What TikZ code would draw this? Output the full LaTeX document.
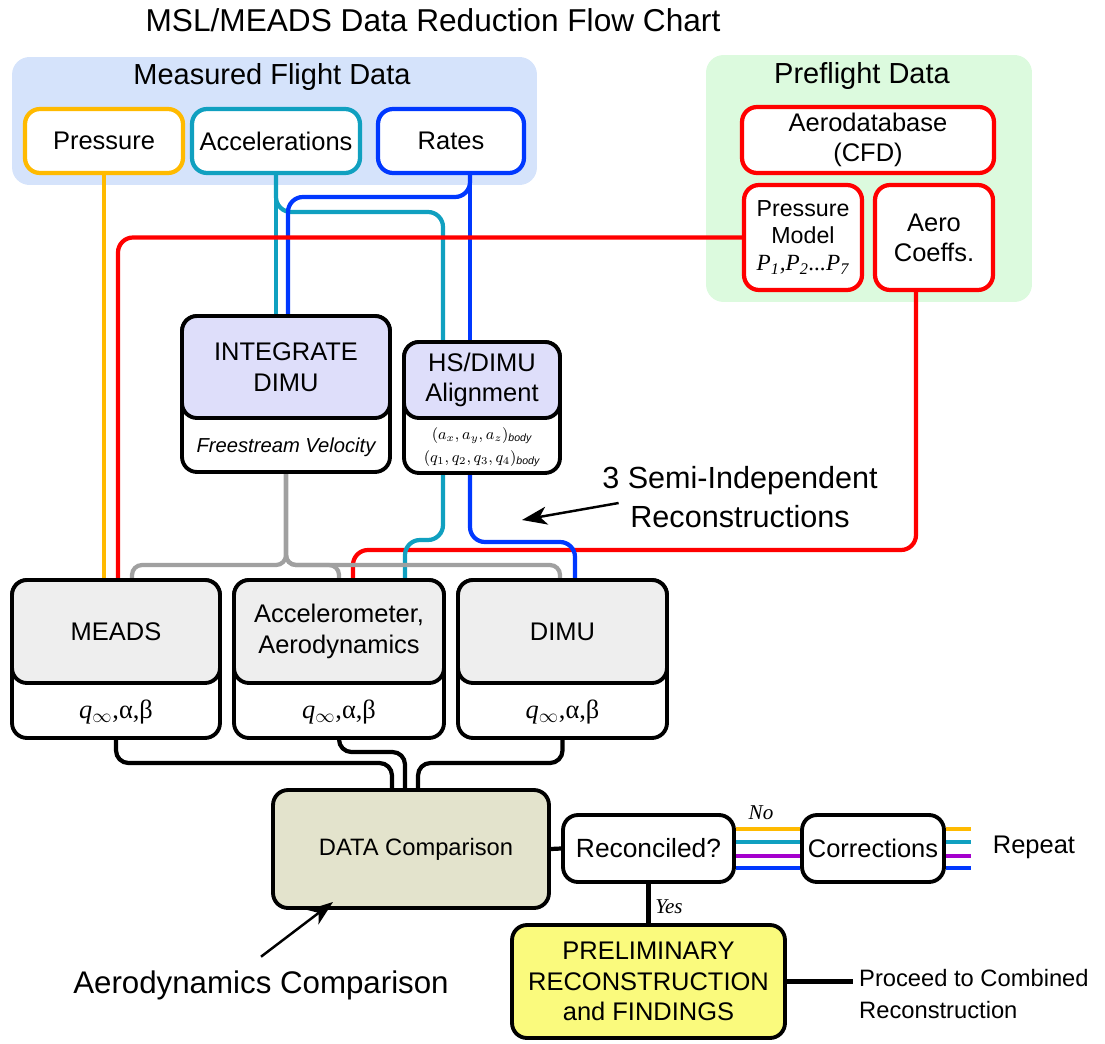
\documentclass[tikz,border=0pt]{standalone}
\usepackage{fontspec}
\setmainfont{Liberation Sans}
\newfontfamily\lserif{Liberation Serif}
\usepackage{tikz}
\usetikzlibrary{arrows.meta,calc}

\definecolor{presscol}{RGB}{255,186,0}
\definecolor{acccol}{RGB}{16,160,192}
\definecolor{ratecol}{RGB}{0,56,255}
\definecolor{aerocol}{RGB}{255,0,0}
\definecolor{velcol}{RGB}{160,160,160}
\definecolor{flagcol}{RGB}{165,0,205}
\definecolor{measfill}{RGB}{213,227,251}
\definecolor{prefill}{RGB}{220,250,222}
\definecolor{lavfill}{RGB}{222,222,250}
\definecolor{recfill}{RGB}{238,238,238}
\definecolor{cmpfill}{RGB}{227,227,204}
\definecolor{prelimfill}{RGB}{250,250,125}

\pgfdeclarelayer{bg}
\pgfdeclarelayer{wires}
\pgfsetlayers{bg,wires,main}

\newcommand{\qab}{\textit{q}$_\infty$,α,β}

\begin{document}
\begin{tikzpicture}[
        x=0.02cm, y=-0.02cm,
        panel/.style={rounded corners=0.35cm, inner sep=0pt},
        panel_title/.style={font=\fontsize{16.5}{19}\selectfont},
        src_block/.style={draw, line width=2.4pt, rounded corners=0.3cm, fill=white, align=center, inner sep=0pt, font=\fontsize{14.5}{17}\selectfont},
        proc_block/.style={draw=black, line width=2.2pt, rounded corners=0.3cm, fill=white, align=center, inner sep=0pt, font=\fontsize{14.5}{17.5}\selectfont},
        sub_text/.style={font=\lserif\fontsize{15}{17}\selectfont},
        wire/.style={line width=2.4pt, rounded corners=0.3cm},
        black_wire/.style={wire, draw=black, rounded corners=0.25cm},
        note_text/.style={align=center, font=\fontsize{17.4}{22}\selectfont},
        note_arrow/.style={arrows={-Stealth[length=0.5cm,width=0.36cm,inset=0.14cm]}, line width=1.4pt},
        flag_text/.style={font=\lserif\itshape\fontsize{12}{14}\selectfont}
    ]
        \useasboundingbox (0,0) rectangle (1105,1044);

        \node (title) at (433,20) [font=\fontsize{18}{21}\selectfont] {MSL/MEADS Data Reduction Flow Chart};

        % data containers
        \begin{pgfonlayer}{bg}
        \node (meas) at (274.5,121) [panel, fill=measfill, minimum width=10.5cm, minimum height=2.56cm] {};
        \node (pre) at (869,178.5) [panel, fill=prefill, minimum width=6.52cm, minimum height=4.94cm] {};
        \end{pgfonlayer}
        \node at (272,77) [panel_title] {Measured Flight Data};
        \node at (862,76) [panel_title] {Preflight Data};

        \node (press) at (104,141) [src_block, draw=presscol, minimum width=3.16cm, minimum height=1.28cm] {Pressure};
        \node (acc) at (276,141) [src_block, draw=acccol, minimum width=3.36cm, minimum height=1.28cm] {Accelerations};
        \node (rates) at (451,141) [src_block, draw=ratecol, minimum width=2.92cm, minimum height=1.28cm] {Rates};

        \node (aerodb) at (868,140) [src_block, draw=aerocol, minimum width=5.04cm, minimum height=1.32cm] {Aerodatabase\\(CFD)};
        \node (pmodel) at (803,237.5) [src_block, draw=aerocol, minimum width=2.36cm, minimum height=2.1cm, font=\fontsize{13.2}{15.5}\selectfont] {Pressure\\Model\\{\lserif\itshape P\textsubscript{1},P\textsubscript{2}...P\textsubscript{7}}};
        \node (coeffs) at (934,237.5) [src_block, draw=aerocol, minimum width=2.36cm, minimum height=2.1cm] {Aero\\Coeffs.};

        % intermediate processing
        \node (integ) at (286,394) [proc_block, minimum width=4.16cm, minimum height=3.12cm] {};
        \node (integtop) at (integ.north) [proc_block, anchor=north, fill=lavfill, minimum width=4.16cm, minimum height=2.04cm] {INTEGRATE\\DIMU};
        \node (integout) at ($(integtop.south)!0.5!(integ.south)$) [font=\itshape\fontsize{11.5}{13}\selectfont] {Freestream Velocity};

        \node (align) at (482,407.5) [proc_block, minimum width=3.12cm, minimum height=2.62cm] {};
        \node (aligntop) at (align.north) [proc_block, anchor=north, fill=lavfill, minimum width=3.12cm, minimum height=1.52cm] {HS/DIMU\\Alignment};
        \node (alignout) at ($(aligntop.south)!0.5!(align.south)$) [align=center, font=\fontsize{9}{13}\selectfont] {$(a_x,a_y,a_z)_{\mathit{body}}$\\$(q_1,q_2,q_3,q_4)_{\mathit{body}}$};

        % reconstructions
        \node (meads) at (116,659) [proc_block, minimum width=4.16cm, minimum height=3.16cm] {};
        \node (meadstop) at (meads.north) [proc_block, anchor=north, fill=recfill, minimum width=4.16cm, minimum height=2.06cm] {MEADS};
        \node (meadsout) at ($(meadstop.south)!0.5!(meads.south)$) [sub_text] {\qab};

        \node (accel) at (339,659) [proc_block, minimum width=4.2cm, minimum height=3.16cm] {};
        \node (acceltop) at (accel.north) [proc_block, anchor=north, fill=recfill, minimum width=4.2cm, minimum height=2.06cm] {Accelerometer,\\Aerodynamics};
        \node (accelout) at ($(acceltop.south)!0.5!(accel.south)$) [sub_text] {\qab};

        \node (dimu) at (562.5,659) [proc_block, minimum width=4.18cm, minimum height=3.16cm] {};
        \node (dimutop) at (dimu.north) [proc_block, anchor=north, fill=recfill, minimum width=4.18cm, minimum height=2.06cm] {DIMU};
        \node (dimuout) at ($(dimutop.south)!0.5!(dimu.south)$) [sub_text] {\qab};

        % comparison
        \node (data) at (411,849) [proc_block, fill=cmpfill, minimum width=5.52cm, minimum height=2.36cm, font=\fontsize{13.5}{16}\selectfont] {\hspace{0.2cm}DATA Comparison};
        \node (recon) at (648.5,848.5) [proc_block, minimum width=3.42cm, minimum height=1.34cm, font=\fontsize{15}{17}\selectfont] {Reconciled?};
        \node (corr) at (873,848.5) [proc_block, minimum width=2.84cm, minimum height=1.34cm] {Corrections};
        \node (prelim) at (648.5,981.5) [proc_block, fill=prelimfill, minimum width=5.46cm, minimum height=2.26cm] {PRELIMINARY\\RECONSTRUCTION\\and FINDINGS};

        \node (repeat) at (1034,847) [font=\fontsize{14.5}{17}\selectfont] {Repeat};
        \node (proceed) at (853,994) [anchor=west, align=left, font=\fontsize{13.5}{18.2}\selectfont] {Proceed to Combined\\Reconstruction};
        \node (no) at (761,813) [flag_text] {No};
        \node (yes) at (669,907) [flag_text] {Yes};

        \node (semi) at (740,497) [note_text] {3 Semi-Independent\\Reconstructions};
        \node (aerocomp) at (261,985) [font=\fontsize{17.8}{20}\selectfont] {Aerodynamics Comparison};

        \coordinate (acc_knee) at (443,212);
        \coordinate (rate_knee) at (288,197);
        \coordinate (coef_knee) at (353,550);
        \coordinate (align_knee_a) at (405,540);
        \coordinate (align_knee_r) at (575,542);
        \coordinate (vel_L) at (132,565);
        \coordinate (vel_M) at (339,565);
        \coordinate (vel_R) at (560,565);
        \coordinate (res_L) at (392,763);
        \coordinate (res_M) at (405,752);
        \coordinate (res_R) at (418,763);
        \coordinate (repeat_end) at (971,848.5);
        \coordinate (semi_tip) at (522,520);
        \coordinate (cmp_tip) at (333,902);

        % Connections
        \begin{pgfonlayer}{wires}
        \draw [wire, draw=presscol] (press.south) -- (press.south |- meads.north);
        \draw [wire, draw=acccol] (acc.south) -- (acc.south |- integ.north);
        \draw [wire, draw=acccol] (acc.south) |- (acc_knee) -- (acc_knee |- align.north);
        \draw [wire, draw=ratecol] ([xshift=0.38cm]rates.south) -- ([xshift=0.38cm]rates.south |- align.north);
        \draw [wire, draw=ratecol] ([xshift=0.38cm]rates.south) |- (rate_knee) -- (rate_knee |- integ.north);

        \draw [wire, draw=aerocol] (pmodel.west) -| ([xshift=0.04cm]meads.north);
        \draw [wire, draw=aerocol] ([xshift=-0.36cm]coeffs.south) |- (coef_knee) -- (coef_knee |- accel.north);

        \draw [wire, draw=acccol] ([xshift=-0.78cm]align.south) |- (align_knee_a) -- (align_knee_a |- accel.north);
        \draw [wire, draw=ratecol] ([xshift=-0.24cm]align.south) |- (align_knee_r) -- (align_knee_r |- dimu.north);
        \foreach \k in {L,M,R}
            \draw [wire, draw=velcol, rounded corners=0.2cm] (integ.south) |- (vel_\k) -- (vel_\k |- meads.north);

        \foreach \k/\blk in {L/meads, M/accel, R/dimu}
            \draw [black_wire] (\blk.south) |- (res_\k) -- (res_\k |- data.north);
        \draw [black_wire] (data.east) -- (recon.west);
        \draw [black_wire] (recon.south) -- (prelim.north);
        \draw [black_wire] (prelim.east) -- (prelim.east -| proceed.west);

        \foreach \c/\s in {presscol/0.39, acccol/0.13, flagcol/-0.15, ratecol/-0.39} {
            \draw [wire, draw=\c] ([yshift=\s cm]recon.east) -- ([yshift=\s cm]corr.west);
            \draw [wire, draw=\c] ([yshift=\s cm]corr.east) -- ([yshift=\s cm]repeat_end);
        }
        \end{pgfonlayer}

        \draw [note_arrow] ([xshift=0.45cm,yshift=-0.12cm]semi.west) -- (semi_tip);
        \draw [note_arrow] ([yshift=0.15cm]aerocomp.north) -- (cmp_tip);

    \end{tikzpicture}
\end{document}
